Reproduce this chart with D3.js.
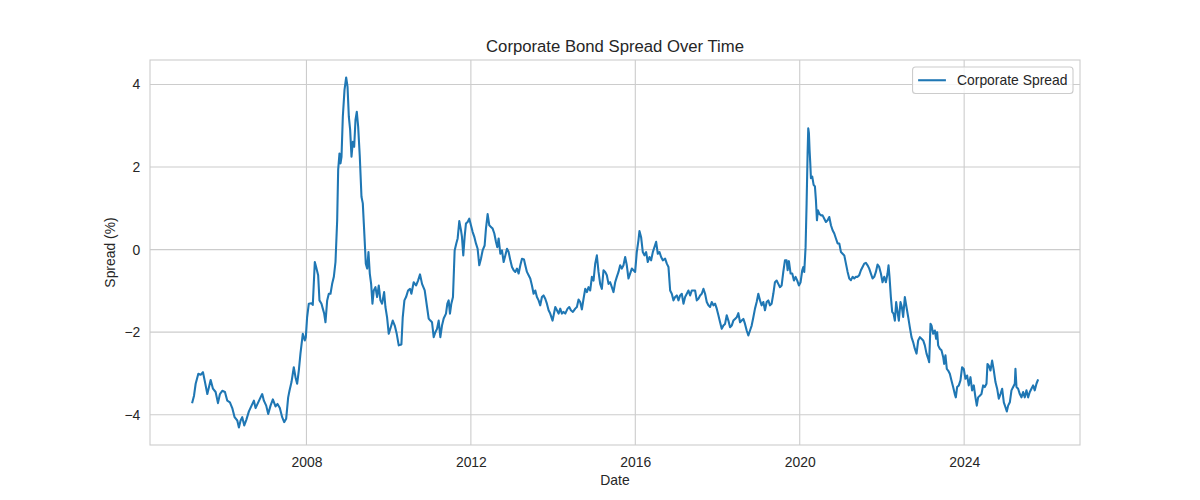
<!DOCTYPE html>
<html>
<head>
<meta charset="utf-8">
<script src="https://cdn.jsdelivr.net/npm/d3@7"></script>
<style>
  body { margin: 0; background: #fff; }
  text { font-family: "Liberation Sans", Arial, sans-serif; fill: #262626; }
</style>
</head>
<body>
<script>
// weekly-ish readings, x as decimal year
var yearFrac = [
  2005.222,2005.263,2005.303,2005.368,2005.425,2005.481,2005.530,2005.587,2005.668,2005.724,2005.789,2005.846,2005.894,2005.951,
  2006.016,2006.073,2006.137,2006.194,2006.251,2006.316,2006.356,2006.397,2006.437,2006.486,2006.534,2006.599,2006.664,2006.721,
  2006.761,2006.826,2006.883,2006.923,2006.964,2007.020,2007.069,2007.126,2007.182,2007.247,2007.296,2007.352,2007.409,2007.458,
  2007.506,2007.555,2007.587,2007.636,2007.692,2007.733,2007.773,2007.814,2007.854,2007.911,2007.960,2007.985,
  2008.016,2008.057,2008.122,2008.154,2008.203,2008.235,2008.284,2008.316,2008.365,2008.397,2008.430,2008.462,2008.503,2008.543,
  2008.584,2008.624,2008.665,2008.705,2008.746,2008.770,2008.802,2008.827,2008.851,2008.883,2008.924,2008.964,2008.997,
  2009.029,2009.061,2009.094,2009.126,2009.159,2009.191,2009.223,2009.256,2009.296,2009.337,2009.369,2009.394,2009.418,2009.442,
  2009.475,2009.507,2009.539,2009.572,2009.604,2009.636,2009.677,2009.717,2009.758,2009.798,2009.839,2009.888,2009.920,2009.960,
  2010.001,2010.050,2010.098,2010.147,2010.195,2010.244,2010.309,2010.341,2010.382,2010.422,2010.471,2010.519,2010.552,2010.608,
  2010.665,2010.714,2010.762,2010.811,2010.876,2010.933,2010.973,
  2011.014,2011.054,2011.095,2011.135,2011.176,2011.216,2011.257,2011.297,2011.338,2011.394,2011.427,2011.459,2011.491,2011.524,
  2011.564,2011.605,2011.645,2011.678,2011.718,2011.759,2011.783,2011.815,2011.848,2011.880,2011.921,2011.961,
  2012.002,2012.042,2012.083,2012.123,2012.164,2012.204,2012.245,2012.285,2012.334,2012.366,2012.407,2012.447,2012.488,2012.528,
  2012.569,2012.609,2012.642,2012.674,2012.715,2012.755,2012.796,2012.836,2012.877,2012.917,2012.958,2012.998,
  2013.039,2013.079,2013.120,2013.160,2013.201,2013.241,2013.290,2013.322,2013.362,2013.403,2013.443,2013.484,2013.524,2013.565,
  2013.605,2013.646,2013.686,2013.727,2013.767,2013.808,2013.848,2013.889,2013.929,2013.986,
  2014.052,2014.092,2014.133,2014.173,2014.214,2014.254,2014.295,2014.351,2014.392,2014.432,2014.481,2014.538,2014.578,2014.619,
  2014.659,2014.700,2014.740,2014.781,2014.821,2014.862,2014.902,2014.943,2014.983,
  2015.024,2015.064,2015.105,2015.145,2015.186,2015.226,2015.267,2015.307,2015.348,2015.388,2015.429,2015.469,2015.510,2015.550,
  2015.591,2015.631,2015.672,2015.712,2015.753,2015.793,2015.834,2015.874,2015.915,2015.955,2015.996,
  2016.036,2016.077,2016.101,2016.141,2016.182,2016.222,2016.263,2016.303,2016.344,2016.384,2016.425,2016.465,2016.506,2016.546,
  2016.587,2016.627,2016.668,2016.724,2016.765,2016.805,2016.846,2016.886,2016.927,2016.967,
  2017.008,2017.048,2017.089,2017.129,2017.170,2017.210,2017.251,2017.291,2017.332,2017.372,2017.413,2017.453,2017.494,2017.534,
  2017.575,2017.615,2017.656,2017.696,2017.737,2017.777,2017.818,2017.858,2017.899,2017.939,2017.980,
  2018.020,2018.061,2018.101,2018.142,2018.182,2018.223,2018.263,2018.304,2018.344,2018.385,2018.425,2018.466,2018.506,2018.547,
  2018.587,2018.628,2018.668,2018.709,2018.749,2018.790,2018.830,2018.871,2018.911,2018.952,2018.992,
  2019.033,2019.073,2019.114,2019.154,2019.195,2019.235,2019.276,2019.316,2019.357,2019.397,2019.438,2019.478,2019.519,2019.559,
  2019.600,2019.640,2019.681,2019.705,2019.737,2019.778,2019.818,2019.859,2019.899,2019.940,2019.980,
  2020.021,2020.061,2020.086,2020.110,2020.142,2020.167,2020.191,2020.207,2020.223,2020.239,2020.256,2020.272,2020.304,2020.337,
  2020.369,2020.393,2020.418,2020.442,2020.474,2020.515,2020.555,2020.596,2020.636,2020.677,2020.717,2020.758,2020.798,2020.839,
  2020.879,2020.920,2020.960,
  2021.001,2021.041,2021.082,2021.122,2021.163,2021.203,2021.244,2021.284,2021.325,2021.365,2021.406,2021.446,2021.487,2021.527,
  2021.568,2021.608,2021.649,2021.689,2021.730,2021.770,2021.811,2021.851,2021.892,2021.932,2021.973,
  2022.013,2022.054,2022.094,2022.135,2022.159,2022.183,2022.216,2022.248,2022.280,2022.313,2022.345,2022.378,2022.410,2022.450,
  2022.483,2022.515,2022.556,2022.596,2022.637,2022.677,2022.718,2022.758,2022.799,2022.841,2022.881,2022.922,2022.962,
  2023.003,2023.043,2023.084,2023.124,2023.148,2023.181,2023.205,2023.246,2023.286,2023.318,2023.343,2023.367,2023.408,2023.448,
  2023.489,2023.513,2023.545,2023.578,2023.610,2023.651,2023.691,2023.732,2023.772,2023.797,2023.829,2023.870,2023.910,2023.950,
  2023.991,
  2024.031,2024.072,2024.112,2024.153,2024.193,2024.234,2024.274,2024.307,2024.339,2024.380,2024.420,2024.461,2024.501,2024.542,
  2024.566,2024.598,2024.639,2024.679,2024.720,2024.760,2024.801,2024.841,2024.882,2024.922,2024.963,
  2025.003,2025.036,2025.068,2025.109,2025.149,2025.190,2025.230,2025.246,2025.271,2025.311,2025.352,2025.392,2025.433,2025.473,
  2025.514,2025.554,2025.595,2025.635,2025.676,2025.716,2025.757,2025.789
];

var spread = [
  -3.70,-3.54,-3.25,-3.01,-3.03,-2.97,-3.21,-3.50,-3.16,-3.37,-3.45,-3.72,-3.50,-3.42,
  -3.45,-3.66,-3.70,-3.84,-4.06,-4.14,-4.31,-4.14,-4.06,-4.26,-4.13,-3.92,-3.78,-3.66,
  -3.84,-3.70,-3.58,-3.50,-3.66,-3.78,-3.98,-3.78,-3.63,-3.80,-3.74,-3.84,-4.06,-4.18,
  -4.10,-3.58,-3.42,-3.21,-2.85,-3.09,-3.25,-2.93,-2.52,-2.04,-2.20,-2.12,
  -1.64,-1.31,-1.30,-1.34,-0.30,-0.42,-0.62,-1.23,-1.31,-1.43,-1.55,-1.76,-1.23,-1.07,
  -1.07,-0.83,-0.66,-0.30,0.71,1.93,2.33,2.09,2.25,3.22,3.87,4.17,3.95,
  3.22,2.90,2.25,2.61,2.49,3.14,3.34,2.98,2.25,1.28,1.12,0.63,0.15,-0.34,
  -0.46,-0.06,-0.58,-0.83,-1.31,-0.99,-0.91,-1.15,-0.87,-1.23,-1.31,-1.03,-1.39,-1.64,
  -2.04,-1.88,-1.72,-1.84,-2.04,-2.32,-2.30,-1.64,-1.23,-1.15,-0.99,-0.95,-1.07,-0.79,
  -0.87,-0.75,-0.60,-0.83,-0.99,-1.39,-1.67,
  -1.72,-1.76,-2.12,-2.00,-1.92,-1.72,-2.12,-1.84,-1.67,-1.55,-1.31,-1.23,-1.55,-1.31,
  -1.15,-0.02,0.15,0.27,0.69,0.47,0.31,-0.14,0.31,0.63,0.67,0.75,
  0.59,0.43,0.31,0.15,0.02,-0.38,-0.22,-0.02,0.10,0.51,0.86,0.59,0.55,0.51,
  0.39,0.19,0.06,0.27,-0.10,-0.02,-0.30,-0.14,0.02,-0.06,-0.26,-0.42,
  -0.50,-0.54,-0.46,-0.58,-0.38,-0.22,-0.24,-0.38,-0.54,-0.62,-0.70,-0.87,-1.07,-0.99,
  -1.15,-1.23,-1.35,-1.15,-1.11,-1.19,-1.31,-1.47,-1.55,-1.72,
  -1.39,-1.47,-1.55,-1.43,-1.55,-1.51,-1.55,-1.43,-1.39,-1.47,-1.51,-1.43,-1.39,-1.21,
  -1.27,-1.45,-1.19,-0.95,-1.03,-0.91,-0.99,-0.66,-0.75,
  -0.34,-0.14,-0.54,-0.83,-0.95,-0.50,-0.54,-0.62,-0.83,-0.79,-0.91,-1.03,-0.79,-0.66,
  -0.54,-0.38,-0.46,-0.38,-0.18,-0.38,-0.70,-0.58,-0.46,-0.50,-0.54,
  -0.06,0.23,0.45,0.30,-0.06,-0.14,-0.06,-0.30,-0.18,-0.26,-0.06,0.06,0.19,-0.10,
  -0.06,-0.18,-0.26,-0.22,-0.34,-0.42,-0.99,-1.07,-1.23,-1.15,
  -1.11,-1.23,-1.11,-1.07,-1.31,-1.15,-1.07,-0.99,-1.11,-0.99,-0.99,-0.99,-1.23,-1.19,
  -1.11,-1.07,-0.95,-1.07,-1.27,-1.35,-1.39,-1.27,-1.35,-1.31,-1.43,
  -1.59,-1.76,-1.92,-1.84,-1.80,-1.59,-1.72,-1.88,-1.84,-1.72,-1.68,-1.64,-1.54,-1.76,
  -1.72,-1.68,-1.80,-1.96,-2.08,-1.96,-1.84,-1.64,-1.43,-1.27,-1.07,
  -1.23,-1.35,-1.27,-1.47,-1.27,-1.23,-1.35,-1.31,-1.07,-0.79,-0.75,-0.83,-0.91,-0.87,
  -0.54,-0.26,-0.26,-0.50,-0.28,-0.58,-0.58,-0.75,-0.66,-0.75,-0.87,
  -0.79,-0.50,-0.42,-0.54,0.06,1.12,2.33,2.94,2.82,2.41,2.09,1.73,1.77,1.57,
  1.53,1.20,0.71,0.95,0.87,0.83,0.83,0.75,0.67,0.71,0.79,0.59,0.47,0.39,
  0.27,0.15,0.15,
  -0.06,-0.10,-0.14,-0.34,-0.54,-0.70,-0.74,-0.66,-0.70,-0.66,-0.66,-0.62,-0.50,-0.42,
  -0.34,-0.32,-0.38,-0.46,-0.58,-0.70,-0.66,-0.54,-0.36,-0.42,-0.58,
  -0.79,-0.66,-0.79,-0.58,-0.38,-0.66,-1.15,-1.51,-1.55,-1.72,-1.27,-1.51,-1.72,-1.27,
  -1.39,-1.63,-1.15,-1.39,-1.63,-1.88,-2.12,-2.24,-2.40,-2.52,-2.20,-2.12,-2.16,
  -2.20,-2.32,-2.52,-2.64,-2.73,-1.80,-1.84,-2.04,-1.96,-2.16,-2.00,-2.32,-2.40,-2.44,
  -2.60,-2.77,-2.56,-2.89,-2.93,-3.01,-3.17,-3.33,-3.50,-3.58,-3.33,-3.29,-3.17,-2.85,
  -2.89,
  -3.13,-3.05,-3.29,-3.09,-3.41,-3.29,-3.58,-3.78,-3.58,-3.54,-3.50,-3.29,-3.33,-3.25,
  -2.77,-2.81,-2.93,-2.69,-2.93,-3.21,-3.37,-3.61,-3.50,-3.37,-3.70,
  -3.82,-3.92,-3.78,-3.70,-3.41,-3.33,-3.25,-2.89,-3.33,-3.37,-3.50,-3.58,-3.45,-3.58,
  -3.41,-3.58,-3.45,-3.37,-3.29,-3.41,-3.25,-3.17
];

var xTickYears = [2008, 2012, 2016, 2020, 2024];
var yTickValues = [-4, -2, 0, 2, 4];
var seriesName = "Corporate Spread";
var chartTitle = "Corporate Bond Spread Over Time";

function toDate(y) {
	var y0 = Math.floor(y);
	var a = new Date(y0, 0, 1), b = new Date(y0 + 1, 0, 1);
	return new Date(+a + (y - y0) * (b - a));
}

function generateViz() {
	var width = 1200,
		height = 500;
	var margin = {left: 150, right: 120, top: 60, bottom: 55};
	var iw = width - margin.left - margin.right,
		ih = height - margin.top - margin.bottom;

	var data = yearFrac.map(function(y, i) { return {date: toDate(y), value: spread[i]}; });

	// matplotlib style 5% margins
	var xe = d3.extent(yearFrac), xp = (xe[1] - xe[0]) * 0.05;
	var ye = d3.extent(spread), yp = (ye[1] - ye[0]) * 0.05;

	var x = d3.scaleTime()
		.domain([toDate(xe[0] - xp), toDate(xe[1] + xp)])
		.range([margin.left, margin.left + iw]);
	var y = d3.scaleLinear()
		.domain([ye[0] - yp, ye[1] + yp])
		.range([margin.top + ih, margin.top]);

	var svg = d3.select("body")
		.append("svg")
		.attr("width", width)
		.attr("height", height);

	svg.append("rect")
		.attr("width", width).attr("height", height)
		.attr("fill", "#fff");

	// grid
	var grid = svg.append("g").attr("stroke", "#cccccc").attr("stroke-width", 1.1);
	grid.selectAll(".gx")
		.data(xTickYears)
		.enter().append("line")
		.attr("x1", function(d) { return x(new Date(d, 0, 1)); })
		.attr("x2", function(d) { return x(new Date(d, 0, 1)); })
		.attr("y1", margin.top).attr("y2", margin.top + ih);
	grid.selectAll(".gy")
		.data(yTickValues)
		.enter().append("line")
		.attr("y1", function(d) { return y(d); })
		.attr("y2", function(d) { return y(d); })
		.attr("x1", margin.left).attr("x2", margin.left + iw);

	// axes (no tick marks, whitegrid style)
	var xAxis = d3.axisBottom(x)
		.tickValues(xTickYears.map(function(d) { return new Date(d, 0, 1); }))
		.tickFormat(d3.timeFormat("%Y"))
		.tickSize(0).tickPadding(0);
	svg.append("g")
		.attr("transform", "translate(0," + (margin.top + ih) + ")")
		.call(xAxis)
		.call(function(g) {
			g.select(".domain").remove();
			g.selectAll("text").attr("dy", null).attr("y", 22)
				.attr("font-size", "13.9px").attr("fill", "#262626");
		});

	var yAxis = d3.axisLeft(y)
		.tickValues(yTickValues)
		.tickFormat(function(d) { return d < 0 ? "\u2212" + Math.abs(d) : String(d); })
		.tickSize(0).tickPadding(9.7);
	svg.append("g")
		.attr("transform", "translate(" + margin.left + ",0)")
		.call(yAxis)
		.call(function(g) {
			g.select(".domain").remove();
			g.selectAll("text").attr("font-size", "13.9px").attr("fill", "#262626");
		});

	// spines
	svg.append("rect")
		.attr("x", margin.left).attr("y", margin.top)
		.attr("width", iw).attr("height", ih)
		.attr("fill", "none")
		.attr("stroke", "#cccccc")
		.attr("stroke-width", 1.1);

	// series
	var line = d3.line()
		.x(function(d) { return x(d.date); })
		.y(function(d) { return y(d.value); });
	svg.append("path")
		.datum(data)
		.attr("d", line)
		.attr("fill", "none")
		.attr("stroke", "#1f77b4")
		.attr("stroke-width", 2.08)
		.attr("stroke-linejoin", "round")
		.attr("stroke-linecap", "square");

	// labels
	svg.append("text")
		.attr("x", margin.left + iw / 2).attr("y", 52)
		.attr("text-anchor", "middle")
		.attr("font-size", "16.7px")
		.text(chartTitle);
	svg.append("text")
		.attr("x", margin.left + iw / 2).attr("y", 485)
		.attr("text-anchor", "middle")
		.attr("font-size", "13.9px")
		.text("Date");
	svg.append("text")
		.attr("transform", "translate(115," + (margin.top + ih / 2) + ") rotate(-90)")
		.attr("text-anchor", "middle")
		.attr("font-size", "13.9px")
		.text("Spread (%)");

	// legend
	var lg = svg.append("g");
	var lbox = lg.append("rect");
	var ltext = lg.append("text")
		.attr("font-size", "13.9px")
		.text(seriesName);
	var tw = ltext.node().getComputedTextLength();
	var pad = 5.56, hl = 27.8, htp = 11.1;
	var bw = pad * 2 + hl + htp + tw, bh = 26.5;
	var bx = margin.left + iw - 7 - bw, by = margin.top + 7;
	lbox.attr("x", bx).attr("y", by)
		.attr("width", bw).attr("height", bh)
		.attr("rx", 3)
		.attr("fill", "#fff").attr("fill-opacity", 0.8)
		.attr("stroke", "#cccccc").attr("stroke-width", 1.1);
	lg.append("line")
		.attr("x1", bx + pad).attr("x2", bx + pad + hl)
		.attr("y1", by + bh / 2).attr("y2", by + bh / 2)
		.attr("stroke", "#1f77b4").attr("stroke-width", 2.08);
	ltext.attr("x", bx + pad + hl + htp).attr("y", by + bh / 2 + 5);
} // generateViz()

generateViz();
</script>
</body>
</html>
